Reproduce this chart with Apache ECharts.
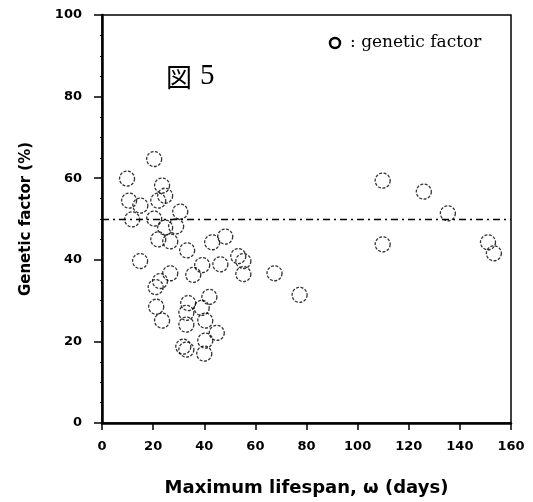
<!DOCTYPE html>
<html><head><meta charset="utf-8">
<script src="https://cdn.jsdelivr.net/npm/echarts@6/dist/echarts.min.js"></script>
<style>html,body{margin:0;padding:0;background:#fff}#c{width:533px;height:502px}</style>
</head><body><div id="c"></div>
<script>
const lifespan = [20.4, 9.8, 23.5, 24.7, 22, 10.6, 15, 30.6, 11.8, 20.4, 24.7, 29, 22, 26.7, 33.3, 43.1, 48.2, 14.9, 39.2, 46.3, 53.3, 55.3, 55.3, 67.5, 35.7, 26.7, 22.7, 21, 21.2, 23.5, 33.7, 33, 33, 42, 39, 40.4, 44.9, 31.8, 33, 40.4, 40, 77.3, 109.8, 125.9, 135.3, 109.8, 151, 153.3];
const genetic  = [64.7, 59.9, 58.2, 55.7, 54.5, 54.5, 53.3, 51.8, 49.9, 50.1, 47.9, 48.2, 45, 44.5, 42.3, 44.3, 45.7, 39.7, 38.7, 38.9, 40.9, 39.7, 36.5, 36.7, 36.3, 36.7, 34.8, 33.3, 28.5, 25.1, 29.4, 27, 24.1, 30.9, 28.2, 25.1, 22.1, 18.7, 18, 20.2, 17, 31.4, 59.4, 56.7, 51.4, 43.8, 44.3, 41.6];
const refLevel = 50;
const xTicks = [0, 20, 40, 60, 80, 100, 120, 140, 160];
const yTicks = [0, 20, 40, 60, 80, 100];

const pts = lifespan.map((x, i) => [x, genetic[i]]);
const chart = echarts.init(document.getElementById('c'));
const sansB = 'DejaVu Sans, Liberation Sans, Arial, sans-serif';
const labelFont = {color: '#000', fontFamily: sansB, fontWeight: 'bold', fontSize: 13};
chart.setOption({
  animation: false,
  backgroundColor: '#fff',
  grid: {left: 102, right: 22, top: 15, bottom: 76, show: true, borderColor: '#000', borderWidth: 1.5},
  xAxis: {
    type: 'value', min: 0, max: 160, interval: 20,
    axisLine: {show: true, lineStyle: {color: '#000', width: 2.5}},
    axisTick: {show: true, inside: false, length: 7, lineStyle: {color: '#000', width: 1.5}},
    splitLine: {show: false},
    axisLabel: Object.assign({margin: 17, formatter: v => xTicks.includes(v) ? String(v) : ''}, labelFont),
    name: 'Maximum lifespan, ω (days)',
    nameLocation: 'middle', nameGap: 56,
    nameTextStyle: {color: '#000', fontFamily: sansB, fontWeight: 'bold', fontSize: 18}
  },
  yAxis: {
    type: 'value', min: 0, max: 100, interval: 20,
    axisLine: {show: true, lineStyle: {color: '#000', width: 2.5}},
    axisTick: {show: true, inside: false, length: 8, lineStyle: {color: '#000', width: 1.5}},
    minorTick: {show: true, splitNumber: 4, length: 2, lineStyle: {color: '#000', width: 1}},
    splitLine: {show: false},
    axisLabel: Object.assign({margin: 20, formatter: v => yTicks.includes(v) ? String(v) : ''}, labelFont),
    name: 'Genetic factor (%)',
    nameLocation: 'middle', nameGap: 68, nameRotate: 90,
    nameTextStyle: {color: '#000', fontFamily: sansB, fontWeight: 'bold', fontSize: 15}
  },
  series: [{
    type: 'scatter',
    data: pts,
    symbol: 'circle',
    symbolSize: 15,
    itemStyle: {color: 'rgba(255,255,255,0)', borderColor: '#000', borderWidth: 1.3, borderType: [3, 1.5]},
    markLine: {
      silent: true, symbol: 'none', label: {show: false},
      lineStyle: {color: '#000', width: 1.3, type: [7, 4, 2, 4]},
      data: [{yAxis: refLevel}]
    }
  }],
  graphic: [
    {type: 'circle', shape: {cx: 335, cy: 43, r: 5}, style: {fill: 'none', stroke: '#000', lineWidth: 2.5}},
    {type: 'text', left: 350, top: 34, style: {text: ': genetic factor', fontFamily: 'DejaVu Serif, Liberation Serif, serif', fontSize: 17, fill: '#000'}},
    {type: 'text', left: 166, top: 64, style: {text: '図', fontFamily: 'Noto Sans CJK JP, sans-serif', fontSize: 26, fill: '#000'}},
    {type: 'text', left: 200, top: 62, style: {text: '5', fontFamily: 'Liberation Serif, serif', fontSize: 29, fill: '#000'}}
  ]
});
</script></body></html>
